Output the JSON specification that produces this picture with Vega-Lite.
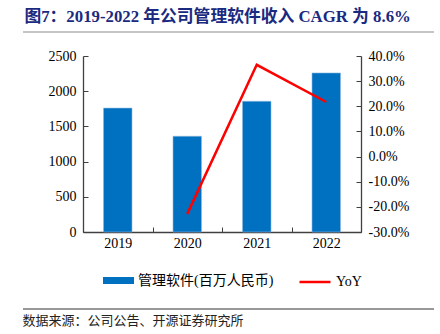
{
  "$schema": "https://vega.github.io/schema/vega-lite/v6.json",
  "padding": {"left": 22, "top": 8, "right": 0, "bottom": 0},
  "background": "white",
  "title": {
    "text": "图7：2019-2022 年公司管理软件收入 CAGR 为 8.6%",
    "anchor": "start",
    "font": "Liberation Serif, Noto Sans CJK SC",
    "fontSize": 16.8,
    "fontWeight": "bold",
    "color": "#1a2a80",
    "offset": 6,
    "dx": 2
  },
  "bounds": "flush",
  "center": true,
  "spacing": 20,
  "config": {
    "view": {"stroke": null},
    "axis": {"grid": false},
    "locale": {"number": {"decimal": ".", "thousands": ",", "grouping": [3], "currency": ["$", ""], "minus": "-"}}
  },
  "vconcat": [
    {
      "width": 398,
      "height": 4,
      "data": {"values": [{}]},
      "mark": {"type": "rule", "color": "#8c8c8c", "strokeWidth": 1.2},
      "encoding": {
        "x": {"datum": 0, "type": "quantitative", "scale": {"domain": [0, 1], "nice": false, "zero": false}, "axis": null},
        "x2": {"datum": 1.0327},
        "y": {"datum": 1, "type": "quantitative", "scale": {"domain": [0, 1]}, "axis": null}
      }
    },
    {
      "width": 278,
      "height": 176,
      "data": {"values": [
        {"year": "2019", "revenue": 1760, "yoy": null},
        {"year": "2020", "revenue": 1360, "yoy": -0.228},
        {"year": "2021", "revenue": 1856, "yoy": 0.365},
        {"year": "2022", "revenue": 2259, "yoy": 0.217}
      ]},
      "encoding": {
        "x": {
          "field": "year", "type": "ordinal",
          "scale": {"paddingInner": 0, "paddingOuter": 0},
          "axis": {"title": null, "labelAngle": 0, "tickBand": "extent", "tickSize": -5, "labelPadding": 9,
                   "labelFont": "Liberation Serif", "labelFontSize": 14, "labelColor": "#000",
                   "domainColor": "#404040", "tickColor": "#404040", "domainWidth": 1.3, "tickWidth": 1}
        }
      },
      "layer": [
        {
          "mark": {"type": "bar", "width": {"band": 0.41}, "stroke": "#8db8e0", "strokeWidth": 0.6},
          "encoding": {
            "y": {"field": "revenue", "type": "quantitative", "scale": {"domain": [0, 2500]},
                  "axis": {"title": null,
                           "values": [0, 500, 1000, 1500, 2000, 2500], "format": "d", "tickSize": -5, "labelPadding": 12,
                           "labelFont": "Liberation Serif", "labelFontSize": 14, "labelColor": "#000",
                           "domainColor": "#404040", "tickColor": "#404040", "domainWidth": 1.3}},
            "fill": {"datum": "管理软件(百万人民币)", "type": "nominal", "scale": {"range": ["#0070C0"]},
                     "legend": {"orient": "none", "legendX": 20, "legendY": 209, "title": null,
                                "symbolType": "M-1,-0.225H1V0.225H-1Z", "symbolSize": 961, "symbolStrokeWidth": 0,
                                "labelFont": "Liberation Serif, Noto Sans CJK SC", "labelFontSize": 14, "labelColor": "#000"}}
          }
        },
        {
          "mark": {"type": "line", "strokeWidth": 2.5},
          "encoding": {
            "y": {"field": "yoy", "type": "quantitative", "scale": {"domain": [-0.3, 0.4]},
                  "axis": {"orient": "right", "title": null, "format": ".1%", "values": [-0.3, -0.2, -0.1, 0, 0.1, 0.2, 0.3, 0.4],
                           "tickSize": -5, "labelPadding": 12,
                           "labelFont": "Liberation Serif", "labelFontSize": 14, "labelColor": "#000",
                           "domainColor": "#404040", "tickColor": "#404040", "domainWidth": 1.3}},
            "stroke": {"datum": "YoY", "type": "nominal", "scale": {"range": ["#FF0000"]},
                       "legend": {"orient": "none", "legendX": 215, "legendY": 209, "title": null,
                                  "symbolType": "stroke", "symbolSize": 961, "symbolStrokeWidth": 2.5,
                                  "labelFont": "Liberation Serif", "labelFontSize": 14, "labelColor": "#000"}}
          }
        }
      ],
      "resolve": {"scale": {"y": "independent", "fill": "independent", "stroke": "independent"}}
    },
    {
      "width": 398,
      "height": 57,
      "data": {"values": [{}]},
      "mark": {"type": "rule", "color": "#333333", "strokeWidth": 1.2},
      "encoding": {
        "x": {"datum": 0, "type": "quantitative", "scale": {"domain": [0, 1], "nice": false, "zero": false}, "axis": null},
        "x2": {"datum": 1.0327},
        "y": {"datum": 0, "type": "quantitative", "scale": {"domain": [0, 1]}, "axis": null}
      },
      "title": {"text": "数据来源：公司公告、开源证券研究所", "orient": "bottom", "anchor": "start",
                "font": "Noto Sans CJK SC", "fontSize": 13, "fontWeight": "normal", "color": "#222", "offset": 5}
    }
  ]
}
